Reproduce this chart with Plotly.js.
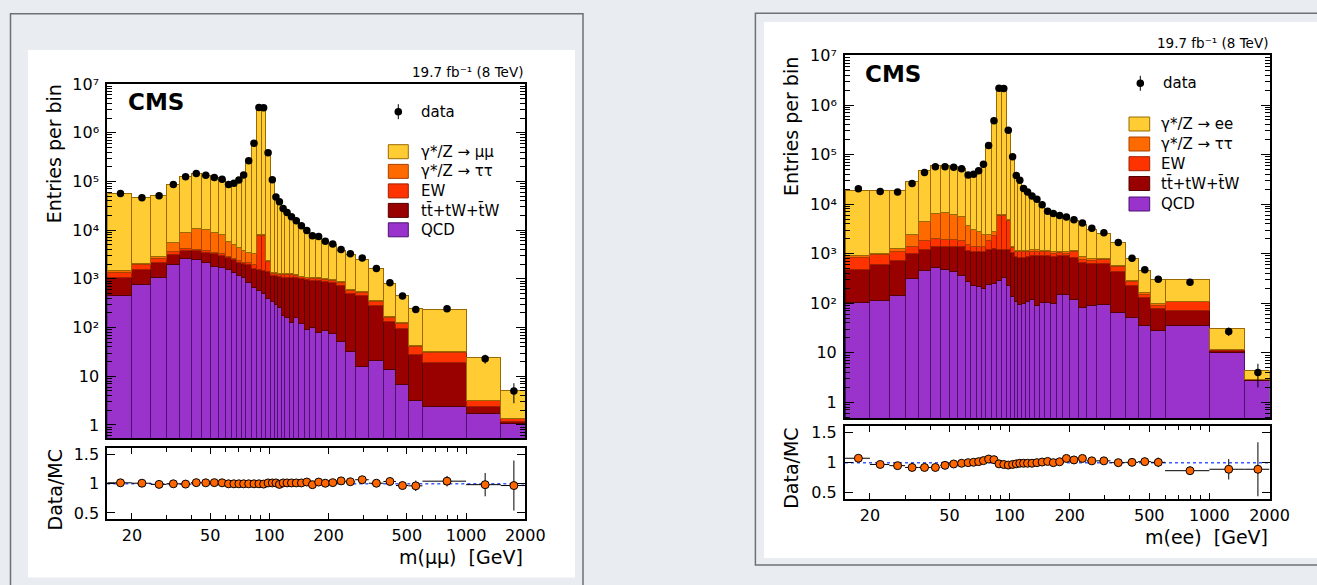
<!DOCTYPE html>
<html>
<head>
<meta charset="utf-8">
<script src="https://cdn.plot.ly/plotly-3.0.1.min.js"></script>
<style>
html,body{margin:0;padding:0;background:#e9ecf0;overflow:hidden;}
#chart{width:1317px;height:585px;}
</style>
</head>
<body>
<div id="chart"></div>
<script>
// ---------------- data ----------------
const binEdges = [15,20,25,30,35,40,45,50,55,60,64,68,72,76,81,86,91,96,101,106,110,115,120,126,133,141,150,160,171,185,200,220,243,273,320,380,440,510,600,1000,1500,2000];

// dimuon channel (stack components per bin)
const muQCD = [459,771,1090,1950,2590,2510,2180,1800,1690,1540,1380,1180,1060,860,660,565,500,390,350,300,257,180,160,130,160,121,91,100,79,88,75,53,33,16,21,14,6.9,3.15,2.45,1.73,1.05];
const muTop = [632,820,1120,1230,1250,1330,1360,1470,1340,1170,1090,1035,1050,1120,1010,975,1000,1035,830,880,835,910,930,960,900,913,870,830,852,800,760,683,464,429,266,117,88,25,16.4,0.72,0.12];
const muEW = [289,360,380,540,310,200,300,265,245,225,200,175,105,230,300,6240,6150,900,135,135,145,145,145,145,105,70,96,93,93,88,96,125,85,92,59,29,26,11.8,11.9,0.7,0.16];
const muTauTau = [90,160,300,1960,4950,7000,6480,5560,4870,3015,2415,2100,1625,1325,1410,370,370,65,65,45,40,55,80,80,75,40,34,33,33,31,32,30,28,24,17,6,5,2,1.0,0.05,0.02];
const muDY = [54000,43800,48400,80300,116500,131500,121200,108900,100900,80000,86500,102900,132000,263500,601600,3290000,3290000,380000,105600,46000,37300,26100,21300,17200,14100,11000,8450,6720,6130,4850,4130,2940,2565,1945,1250,630,333,203,202,20.7,3.7];
const muData = [56400,46400,50800,86000,125000,145400,133800,120300,110900,86000,91600,107400,135800,267000,605000,3290000,3270000,388000,108600,48000,38200,27800,22950,18800,15570,12330,9830,7660,7400,5920,5195,4020,3285,2680,1630,828,445,236,244,23,5];
const muDataErr = [237,215,225,293,354,381,366,347,333,293,303,328,369,517,778,1814,1808,623,330,219,195,167,151,137,125,111,99,88,86,77,72,63,57,52,40,29,21,15,16,4.8,2.2];
const muRatio = [1.017,1.01,0.99,1.0,0.995,1.02,1.017,1.02,1.017,1.0,1.0,1.0,1.0,1.0,1.0,1.0,0.995,1.015,1.015,1.015,0.99,1.015,1.015,1.015,1.015,1.015,1.03,0.985,1.03,1.01,1.02,1.05,1.035,1.07,1.01,1.04,0.97,0.965,1.045,0.985,0.97];
const muRatioErr = [0.006,0.007,0.007,0.005,0.004,0.004,0.004,0.004,0.004,0.005,0.005,0.004,0.004,0.003,0.002,0.001,0.001,0.002,0.004,0.006,0.007,0.008,0.009,0.01,0.011,0.012,0.014,0.016,0.016,0.018,0.02,0.022,0.025,0.028,0.035,0.05,0.065,0.09,0.09,0.2,0.43];

// dielectron channel
const eeQCD = [104,112,146,318,468,521,482,433,371,272,233,216,200,240,252,294,333,233,135,107,96,99,107,120,88,103,103,99,153,153,120,83,88,96,65,51,35,27.5,34.7,10.0,2.74];
const eeTop = [386,496,575,696,772,905,944,993,1009,911,863,880,896,1000,1027,928,889,989,912,761,733,730,789,790,835,807,807,769,785,785,722,575,549,541,368,182,96,51.5,35,0.9,0.08];
const eeEW = [365,345,409,412,587,610,518,518,504,357,330,330,285,611,1096,4708,4708,3478,272,228,267,270,200,202,170,190,180,146,124,76,254,109,107,130,113,39,22,13,37,0.6,0.08];
const eeTauTau = [55,61,150,1024,2590,4464,4766,4266,3686,2244,1666,1350,1109,600,400,280,280,220,64,87,87,85,87,110,110,85,90,116,68,82,52,101,60,50,44,22,10,7,4,0.4,0.02];
const eeDY = [18300,17400,17300,25900,42800,54900,52800,50700,47000,35000,36700,43700,58900,141500,456000,2220000,2220000,317000,91900,37400,29400,19600,16600,13600,11300,8400,5850,5370,4700,4050,3470,3030,2340,1750,1100,510,305,204,197,18.3,1.37];
const eeData = [20500,17900,17650,26100,43400,56500,56800,55700,52000,38800,40000,47300,63500,152000,480000,2180000,2150000,309000,90500,37800,30300,20600,17600,14670,12500,9680,7170,6500,5920,5510,4830,4170,3240,2640,1690,808,476,304,266,27,4];
const eeDataErr = [143,134,133,162,208,238,238,236,228,197,200,217,252,390,693,1476,1466,556,301,194,174,144,133,121,112,98,85,81,77,74,69,65,57,51,41,28,22,17,16,5.2,2.0];
const eeRatio = [1.073,0.97,0.95,0.92,0.92,0.92,0.955,0.978,0.99,1.0,1.006,1.017,1.034,1.06,1.05,0.98,0.97,0.96,0.97,0.98,0.99,0.99,0.99,0.99,1.0,1.01,1.02,1.0,1.015,1.07,1.045,1.07,1.03,1.03,1.0,1.005,1.017,1.005,0.866,0.89,0.89];
const eeRatioErr = [0.01,0.01,0.01,0.008,0.006,0.006,0.006,0.006,0.006,0.007,0.007,0.006,0.005,0.004,0.003,0.001,0.001,0.003,0.005,0.007,0.008,0.009,0.01,0.011,0.012,0.014,0.016,0.017,0.018,0.02,0.022,0.024,0.027,0.03,0.035,0.05,0.065,0.08,0.07,0.17,0.45];

const xTickVals = [20,50,100,200,500,1000,2000];
const xTickText = ['20','50','100','200','500','1000','2000'];
const yTickVals = [1,10,100,1000,10000,100000,1000000,10000000];
const yTickText = ['1','10','10²','10³','10⁴','10⁵','10⁶','10⁷'];
const rTickVals = [0.5,1,1.5];
const rTickText = ['0.5','1','1.5'];
const muLegend = ['γ*/Z → μμ','γ*/Z → ττ','EW','tt\u0304+tW+t\u0304W','QCD'];
const eeLegend = ['γ*/Z → ee','γ*/Z → ττ','EW','tt\u0304+tW+t\u0304W','QCD'];

// ---------------- geometry / style ----------------
const W = 1317, H = 585;
const fx = v => v / W, fy = v => 1 - v / H;
const FONT = 'DejaVu Sans, Liberation Sans, Arial, sans-serif';
const STYLE = {
  dy:  {fill:'#ffcc33', line:'#9a6a00'},
  tau: {fill:'#ff6a00', line:'#a84000'},
  ew:  {fill:'#ff3300', line:'#a02000'},
  top: {fill:'#990000', line:'#520000'},
  qcd: {fill:'#9933cc', line:'#4b1272'}
};

const centers = binEdges.slice(0,-1).map((lo,i) => (lo + binEdges[i+1]) / 2);
const widths  = binEdges.slice(0,-1).map((lo,i) => binEdges[i+1] - lo);
const errLo   = centers.map((c,i) => c - binEdges[i]);
const errHi   = centers.map((c,i) => binEdges[i+1] - c);

function stack(xa, ya, comps) {
  return comps.map(c => ({
    type:'bar', x:centers, y:c.vals, width:widths, xaxis:xa, yaxis:ya,
    showlegend:false, hoverinfo:'skip',
    marker:{color:c.st.fill, line:{color:c.st.line, width:1}}
  }));
}
function dataTrace(xa, ya, vals, errs) {
  return {type:'scatter', mode:'markers', x:centers, y:vals, xaxis:xa, yaxis:ya,
    showlegend:false, hoverinfo:'skip',
    marker:{color:'black', size:7.5},
    error_y:{type:'data', array:errs, color:'black', thickness:1, width:0}};
}
function ratioTrace(xa, ya, vals, errs) {
  return {type:'scatter', mode:'markers', x:centers, y:vals, xaxis:xa, yaxis:ya,
    showlegend:false, hoverinfo:'skip',
    marker:{color:'#ff6600', size:8, line:{color:'black', width:1}},
    error_x:{type:'data', symmetric:false, array:errHi, arrayminus:errLo, color:'black', thickness:1, width:0},
    error_y:{type:'data', array:errs, color:'black', thickness:1, width:0}};
}

const traces = [
  ...stack('x','y',[
    {vals:muQCD, st:STYLE.qcd},{vals:muTop, st:STYLE.top},{vals:muEW, st:STYLE.ew},
    {vals:muTauTau, st:STYLE.tau},{vals:muDY, st:STYLE.dy}]),
  dataTrace('x','y',muData,muDataErr),
  ratioTrace('x2','y2',muRatio,muRatioErr),
  ...stack('x3','y3',[
    {vals:eeQCD, st:STYLE.qcd},{vals:eeTop, st:STYLE.top},{vals:eeEW, st:STYLE.ew},
    {vals:eeTauTau, st:STYLE.tau},{vals:eeDY, st:STYLE.dy}]),
  dataTrace('x3','y3',eeData,eeDataErr),
  ratioTrace('x4','y4',eeRatio,eeRatioErr)
];

// axis helpers
const yMinor = [];
for (let d = -1; d < 7; d++) for (let k = 2; k <= 9; k++) yMinor.push(k * Math.pow(10, d));
const xMinor = [30,40,60,70,80,90,300,400,600,700,800,900];
const xr = [Math.log10(15), Math.log10(2000)];
const lineAx = {showline:true, linecolor:'black', linewidth:2, showgrid:false, zeroline:false, mirror:'allticks'};
const tickFont = {family:FONT, size:16, color:'black'};

function mainX(dom, anchor) {
  return Object.assign({}, lineAx, {domain:dom, anchor:anchor, type:'log', range:xr,
    showticklabels:false, ticks:'', mirror:true});
}
function mainY(dom, anchor, range) {
  return Object.assign({}, lineAx, {domain:dom, anchor:anchor, type:'log', range:range,
    tickmode:'array', tickvals:yTickVals, ticktext:yTickText, ticks:'inside', ticklen:9,
    tickwidth:1, tickcolor:'black', tickfont:tickFont, ticklabelstandoff:3,
    minor:{tickmode:'array', tickvals:yMinor, ticks:'inside', ticklen:5, tickwidth:1, tickcolor:'black'}});
}
function ratioX(dom, anchor) {
  return Object.assign({}, lineAx, {domain:dom, anchor:anchor, type:'log', range:xr,
    tickmode:'array', tickvals:xTickVals, ticktext:xTickText, ticks:'inside', ticklen:6,
    tickwidth:1, tickcolor:'black', tickfont:tickFont,
    minor:{tickmode:'array', tickvals:xMinor, ticks:'inside', ticklen:4, tickwidth:1, tickcolor:'black'}});
}
function ratioY(dom, anchor) {
  return Object.assign({}, lineAx, {domain:dom, anchor:anchor, range:[0.39,1.61],
    tickmode:'array', tickvals:rTickVals, ticktext:rTickText, ticks:'inside', ticklen:8,
    tickwidth:1, tickcolor:'black', tickfont:tickFont, ticklabelstandoff:3});
}

const LX = [fx(107.3), fx(525.3)];
const RX = [fx(845), fx(1269.5)];

// background boxes
const shapes = [
  {type:'rect', xref:'paper', yref:'paper', x0:fx(10.5), x1:fx(583), y0:fy(13.8), y1:fy(620),
   fillcolor:'#e9ecf0', line:{color:'#6e7277', width:1.5}, layer:'below'},
  {type:'rect', xref:'paper', yref:'paper', x0:fx(28), x1:fx(575), y0:fy(50), y1:fy(577.5),
   fillcolor:'white', line:{width:0}, layer:'below'},
  {type:'rect', xref:'paper', yref:'paper', x0:fx(755.4), x1:fx(1340), y0:fy(13.3), y1:fy(565),
   fillcolor:'#e9ecf0', line:{color:'#6e7277', width:1.5}, layer:'below'},
  {type:'rect', xref:'paper', yref:'paper', x0:fx(764), x1:fx(1340), y0:fy(22), y1:fy(558),
   fillcolor:'white', line:{width:0}, layer:'below'},
  {type:'line', xref:'x2 domain', yref:'y2', x0:0, x1:1, y0:1, y1:1,
   line:{color:'#3a5cff', width:1.5, dash:'dot'}, layer:'below'},
  {type:'line', xref:'x4 domain', yref:'y4', x0:0, x1:1, y0:1, y1:1,
   line:{color:'#3a5cff', width:1.5, dash:'dot'}, layer:'below'}
];

const annotations = [];
function txt(x, y, text, size, opts) {
  annotations.push(Object.assign({xref:'paper', yref:'paper', x:fx(x), y:fy(y), text:text,
    showarrow:false, font:{family:FONT, size:size, color:'black'}, xanchor:'center', yanchor:'middle'}, opts || {}));
}

// legends (drawn keys + text)
const legendStyles = [STYLE.dy, STYLE.tau, STYLE.ew, STYLE.top, STYLE.qcd];
function legend(boxX0, boxX1, textX, rows, labels, dataX, dataY, dataTextX) {
  rows.forEach((ry, i) => {
    shapes.push({type:'rect', xref:'paper', yref:'paper', x0:fx(boxX0), x1:fx(boxX1),
      y0:fy(ry + 7), y1:fy(ry - 7), fillcolor:legendStyles[i].fill,
      line:{color:legendStyles[i].line, width:1}, layer:'above'});
    txt(textX, ry, labels[i], 15, {xanchor:'left'});
  });
  shapes.push({type:'line', xref:'paper', yref:'paper', x0:fx(dataX), x1:fx(dataX),
    y0:fy(dataY - 7.5), y1:fy(dataY + 7.5), line:{color:'black', width:1}, layer:'above'});
  shapes.push({type:'circle', xref:'paper', yref:'paper', x0:fx(dataX - 3.8), x1:fx(dataX + 3.8),
    y0:fy(dataY + 3.8), y1:fy(dataY - 3.8), fillcolor:'black', line:{color:'black', width:0}, layer:'above'});
  txt(dataTextX, dataY, 'data', 15, {xanchor:'left'});
}
legend(388.3, 408.3, 419, [151.7,171.4,190.9,210.4,229.8], muLegend, 398.3, 111.7, 419);
legend(1129, 1149.7, 1159, [124,144,163.7,183.5,204], eeLegend, 1140.3, 83.3, 1161);

// titles and labels
txt(525, 72, '19.7 fb⁻¹ (8 TeV)', 13.5, {xanchor:'right'});
txt(1269.7, 43, '19.7 fb⁻¹ (8 TeV)', 13.5, {xanchor:'right'});
txt(125.7, 102.3, '<b>CMS</b>', 23, {xanchor:'left'});
txt(863, 73.7, '<b>CMS</b>', 23, {xanchor:'left'});
txt(54.3, 154, 'Entries per bin', 19, {textangle:-90});
txt(790.3, 126.7, 'Entries per bin', 19, {textangle:-90});
txt(55.4, 490, 'Data/MC', 19, {textangle:-90});
txt(791.5, 468.3, 'Data/MC', 19, {textangle:-90});
txt(525, 556.7, 'm(μμ)\u00a0\u00a0[GeV]', 19, {xanchor:'right'});
txt(1270, 536.7, 'm(ee)\u00a0\u00a0[GeV]', 19, {xanchor:'right'});

const layout = {
  width:W, height:H, margin:{l:0, r:0, t:0, b:0},
  paper_bgcolor:'#e9ecf0', plot_bgcolor:'rgba(0,0,0,0)',
  font:{family:FONT, color:'black'},
  barmode:'stack', showlegend:false,
  xaxis:  mainX(LX, 'y'),
  yaxis:  mainY([fy(438), fy(84)], 'x', [-0.267, 7.0]),
  xaxis2: ratioX(LX, 'y2'),
  yaxis2: ratioY([fy(519.3), fy(448.3)], 'x2'),
  xaxis3: mainX(RX, 'y3'),
  yaxis3: mainY([fy(418.3), fy(55)], 'x3', [-0.323, 7.01]),
  xaxis4: ratioX(RX, 'y4'),
  yaxis4: ratioY([fy(499.3), fy(426)], 'x4'),
  shapes:shapes, annotations:annotations
};

Plotly.newPlot('chart', traces, layout, {staticPlot:true, displayModeBar:false}).then(gd => {
  // drop empty placeholder text nodes left by the library
  gd.querySelectorAll('text').forEach(t => { if (!t.textContent.replace(/[\s\u200b]/g, '')) t.remove(); });
});
</script>
</body>
</html>
